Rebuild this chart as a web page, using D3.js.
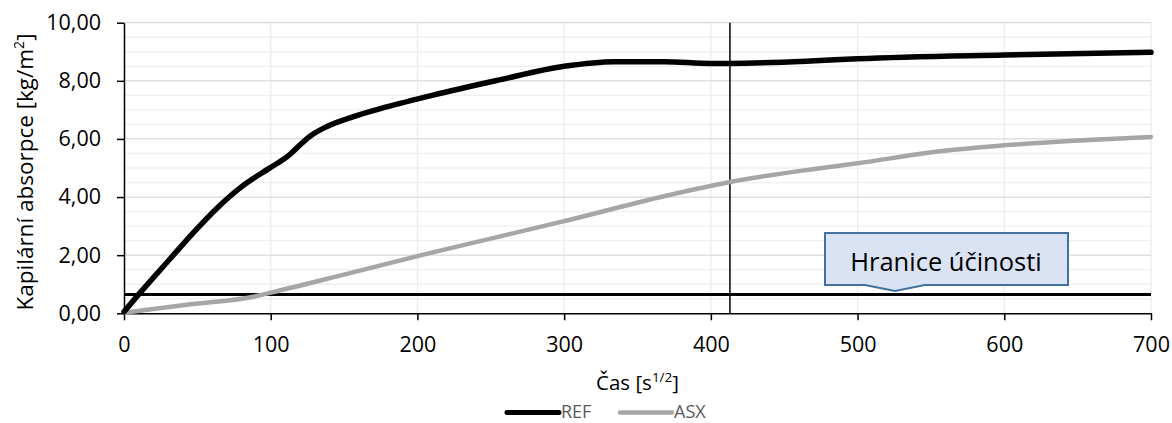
<!DOCTYPE html>
<html><head><meta charset="utf-8">
<script src="https://cdn.jsdelivr.net/npm/d3@7"></script>
<style>
html,body{margin:0;padding:0;background:#fff;}
text{font-family:"Open Sans",sans-serif;}
</style></head>
<body><svg id="c" width="1172" height="423"></svg>
<script>
// Data
const refT = [0, 10, 31, 47, 63, 80, 100, 111, 118, 127, 138, 156, 179, 210, 254, 300, 334, 368, 400, 413, 468, 500, 600, 700];
const refV = [0.05, 0.65, 1.85, 2.76, 3.6, 4.35, 5.02, 5.38, 5.7, 6.1, 6.42, 6.76, 7.1, 7.5, 8.01, 8.5, 8.66, 8.66, 8.6, 8.6, 8.68, 8.76, 8.89, 8.98];
const asxT = [0, 44, 88, 100, 150, 209, 300, 368, 413, 468, 500, 552, 600, 700];
const asxV = [0.02, 0.3, 0.57, 0.71, 1.33, 2.08, 3.17, 4.03, 4.52, 4.95, 5.16, 5.55, 5.78, 6.07];
const thresholdValue = 0.65;
const markerTime = 413;
const xTicks = [0, 100, 200, 300, 400, 500, 600, 700];
const yTicks = [0, 2, 4, 6, 8, 10];
const yMinor = [0.5,1,1.5,2.5,3,3.5,4.5,5,5.5,6.5,7,7.5,8.5,9,9.5];
const seriesNames = ["REF", "ASX"];
const calloutText = "Hranice účinosti";

const svg = d3.select("#c");
const L = 124, R = 1151, T = 22.7, B = 313.3;
const x = d3.scaleLinear().domain([0, 700]).range([L, R]);
const y = d3.scaleLinear().domain([0, 10]).range([B, T]);
const fmt = d => d.toFixed(2).replace(".", ",");

// minor grid
svg.append("g").selectAll("line").data(yMinor).join("line")
  .attr("x1", L).attr("x2", R).attr("y1", d => y(d)).attr("y2", d => y(d))
  .attr("stroke", "#efefef").attr("stroke-width", 1.3);
// vertical grid
svg.append("g").selectAll("line").data(xTicks.slice(1)).join("line")
  .attr("x1", d => x(d)).attr("x2", d => x(d)).attr("y1", T).attr("y2", B)
  .attr("stroke", "#ececec").attr("stroke-width", 1.3);
// major grid
svg.append("g").selectAll("line").data(yTicks.slice(1)).join("line")
  .attr("x1", L).attr("x2", R).attr("y1", d => y(d)).attr("y2", d => y(d))
  .attr("stroke", "#d9d9d9").attr("stroke-width", 1.3);

// axes
const xAxis = svg.append("g").attr("transform", `translate(0,${B})`)
  .call(d3.axisBottom(x).tickValues(xTicks).tickSize(7).tickPadding(16).tickSizeOuter(0));
const yAxis = svg.append("g").attr("transform", `translate(${L},0)`)
  .call(d3.axisLeft(y).tickValues(yTicks).tickFormat(fmt).tickSize(7).tickPadding(16).tickSizeOuter(0));
[xAxis, yAxis].forEach(a => {
  a.select(".domain").attr("stroke", "#000").attr("stroke-width", 1.5);
  a.selectAll(".tick line").attr("stroke", "#000").attr("stroke-width", 1.5);
  a.selectAll(".tick text").attr("font-size", 21.5).attr("fill", "#000").attr("font-family", "Open Sans");
});

// threshold
svg.append("line").attr("x1", x(0)).attr("x2", x(700)).attr("y1", y(thresholdValue)).attr("y2", y(thresholdValue))
  .attr("stroke", "#000").attr("stroke-width", 3);
// marker vertical line
svg.append("line").attr("x1", x(markerTime)).attr("x2", x(markerTime)).attr("y1", y(10)).attr("y2", y(0))
  .attr("stroke", "#000").attr("stroke-width", 1.5);

const line = d3.line().x(d => x(d[0])).y(d => y(d[1])).curve(d3.curveMonotoneX);
svg.append("path").datum(asxT.map((t, i) => [t, asxV[i]])).attr("d", line)
  .attr("fill", "none").attr("stroke", "#a6a6a6").attr("stroke-width", 4.5).attr("stroke-linecap", "round");
svg.append("path").datum(refT.map((t, i) => [t, refV[i]])).attr("d", line)
  .attr("fill", "none").attr("stroke", "#000").attr("stroke-width", 5.5).attr("stroke-linecap", "round");

// callout
const bx1 = 825, bx2 = 1068, by1 = 233, by2 = 285, tipX = 895, tipY = 291;
svg.append("path")
  .attr("d", `M${bx1},${by1}H${bx2}V${by2}H${tipX+30}L${tipX},${tipY}L${tipX-30},${by2}H${bx1}Z`)
  .attr("fill", "#dae3f3").attr("stroke", "#41719c").attr("stroke-width", 2);
svg.append("text").attr("x", 946).attr("y", 271).attr("text-anchor", "middle")
  .attr("font-size", 25.5).attr("fill", "#000").text(calloutText);

// axis titles
const yt = svg.append("text").attr("transform", `translate(33,172) rotate(-90)`)
  .attr("text-anchor", "middle").attr("font-size", 22.5).attr("fill", "#000");
yt.append("tspan").text("Kapilární absorpce [kg/m");
yt.append("tspan").attr("dy", -9).attr("font-size", 14).text("2");
yt.append("tspan").attr("dy", 9).text("]");
const xt = svg.append("text").attr("x", (L + R) / 2).attr("y", 390).attr("text-anchor", "middle")
  .attr("font-size", 20.5).attr("fill", "#000");
xt.append("tspan").text("Čas [s");
xt.append("tspan").attr("dy", -8).attr("font-size", 13.5).text("1/2");
xt.append("tspan").attr("dy", 8).text("]");

// legend
const leg = [{name: seriesNames[0], color: "#000", w: 5, x: 507}, {name: seriesNames[1], color: "#a6a6a6", w: 4.5, x: 620}];
const lg = svg.append("g").selectAll("g").data(leg).join("g");
lg.append("line").attr("x1", d => d.x).attr("x2", d => d.x + 52).attr("y1", 412.5).attr("y2", 412.5)
  .attr("stroke", d => d.color).attr("stroke-width", d => d.w).attr("stroke-linecap", "round");
lg.append("text").attr("x", d => d.x + 54).attr("y", 417.5).attr("font-size", 18).attr("fill", "#595959").text(d => d.name);
</script></body></html>
